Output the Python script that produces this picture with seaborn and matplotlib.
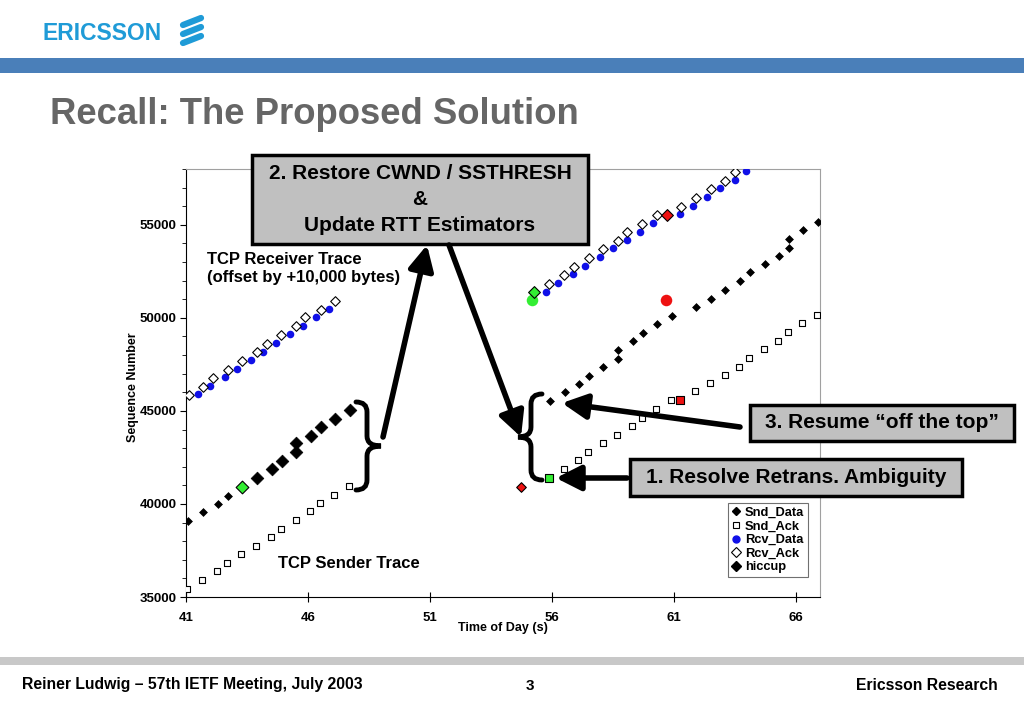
import matplotlib
matplotlib.use("Agg")
import matplotlib.pyplot as plt
from matplotlib.patches import Rectangle, FancyArrowPatch, PathPatch
from matplotlib.path import Path
from matplotlib.lines import Line2D
from matplotlib.ticker import MultipleLocator
import seaborn as sns
import pandas as pd

# Data (time of day in s, sequence number)
snd_data_t = [41.1, 41.7, 42.3, 42.72,
              55.92, 56.53, 57.11, 57.53, 58.12, 58.73, 58.73, 59.32, 59.74, 60.32, 60.92,
              61.93, 62.53, 63.12, 63.73, 64.11, 64.74, 65.32, 65.73, 65.73, 66.3, 66.92]
snd_data_seq = [39086, 39554, 40016, 40446,
                45538, 46004, 46468, 46882, 47349, 47812, 48280, 48747, 49210, 49677, 50108,
                50575, 51038, 51505, 51973, 52441, 52903, 53317, 53780, 54247, 54715, 55177]

hiccup_t = [43.9, 44.54, 44.92, 45.5, 45.5, 46.12, 46.53, 47.09, 47.72]
hiccup_seq = [41380, 41866, 42328, 42796, 43263, 43640, 44124, 44586, 45054]

snd_ack_t = [41.05, 41.67, 42.27, 42.69, 43.27, 43.88, 44.48, 44.88, 45.5, 46.08, 46.5, 47.08, 47.68,
             56.5, 57.08, 57.5, 58.09, 58.69, 59.28, 59.7, 60.28, 60.88,
             61.89, 62.49, 63.09, 63.69, 64.09, 64.69, 65.27, 65.68, 66.27, 66.89]
snd_ack_seq = [35446, 35914, 36382, 36844, 37296, 37742, 38210, 38656, 39124, 39606, 40070, 40484, 40950,
               41898, 42349, 42812, 43280, 43726, 44177, 44640, 45108, 45575,
               46059, 46489, 46919, 47382, 47849, 48317, 48780, 49247, 49715, 50145]

rcv_data_t = [41.49, 41.97, 42.59, 43.08, 43.68, 44.16, 44.69, 45.26, 45.78, 46.35, 46.87,
              55.78, 56.27, 56.89, 57.37, 57.97, 58.5, 59.07, 59.6, 60.17,
              61.26, 61.78, 62.37, 62.89, 63.5, 63.98]
rcv_data_seq = [45914, 46360, 46828, 47274, 47742, 48188, 48656, 49124, 49586, 50054, 50500,
                51414, 51882, 52349, 52812, 53280, 53747, 54177, 54640, 55108,
                55575, 56038, 56505, 56973, 57387, 57866]

rcv_ack_t = [41.11, 41.71, 42.09, 42.72, 43.31, 43.91, 44.31, 44.88, 45.5, 45.9, 46.53, 47.1,
             55.9, 56.52, 56.91, 57.52, 58.12, 58.73, 59.1, 59.72, 60.3,
             61.31, 61.93, 62.53, 63.12, 63.52]
rcv_ack_seq = [45876, 46306, 46790, 47220, 47688, 48156, 48618, 49102, 49570, 50054, 50446, 50930,
               51828, 52296, 52758, 53226, 53694, 54124, 54608, 55070, 55538,
               55984, 56452, 56919, 57333, 57817]

# highlighted events
green_series = ["hiccup", "Rcv_Data", "Rcv_Ack", "Snd_Ack"]
green_t = [43.28, 55.17, 55.29, 55.89]
green_seq = [40914, 50952, 51382, 41414]
red_series = ["Snd_Data", "Rcv_Data", "Rcv_Ack", "Snd_Ack"]
red_t = [54.72, 60.69, 60.74, 61.27]
red_seq = [40898, 50952, 55554, 45575]

x_ticks = [41, 46, 51, 56, 61, 66]
y_ticks = [35000, 40000, 45000, 50000, 55000]

sns.set_style("ticks")
plt.rcParams['font.family'] = ['Liberation Sans', 'DejaVu Sans']
plt.rcParams['font.weight'] = 'bold'
plt.rcParams['text.color'] = 'black'
plt.rcParams['axes.labelcolor'] = 'black'
plt.rcParams['xtick.color'] = 'black'
plt.rcParams['ytick.color'] = 'black'

styles = {
    "Snd_Data": dict(marker="D", s=16, color="black", edgecolor="black", linewidth=0.5),
    "Snd_Ack": dict(marker="s", s=22, color="white", edgecolor="black", linewidth=0.8),
    "Rcv_Data": dict(marker="o", s=30, color="#1010e8", edgecolor="#1010e8", linewidth=0),
    "Rcv_Ack": dict(marker="D", s=24, color="white", edgecolor="black", linewidth=0.8),
    "hiccup": dict(marker="D", s=42, color="black", edgecolor="black", linewidth=0.5),
}
series = {
    "Snd_Data": (snd_data_t, snd_data_seq),
    "Snd_Ack": (snd_ack_t, snd_ack_seq),
    "Rcv_Data": (rcv_data_t, rcv_data_seq),
    "Rcv_Ack": (rcv_ack_t, rcv_ack_seq),
    "hiccup": (hiccup_t, hiccup_seq),
}

W, H = 1024, 709
def fx(px):
    return px / W
def fy(py):
    return 1 - py / H

fig = plt.figure(figsize=(10.24, 7.09), dpi=100)
ax = fig.add_axes([fx(186), fy(597), (820 - 186) / W, (597 - 169) / H])

for name, (t, seq) in series.items():
    df = pd.DataFrame({"t": t, "seq": seq})
    sns.scatterplot(data=df, x="t", y="seq", ax=ax, zorder=3, legend=False, **styles[name])

# coloured markers
for names, ts, seqs, col in [(green_series, green_t, green_seq, "#33ee33"),
                             (red_series, red_t, red_seq, "#ee1111")]:
    for name, t, s in zip(names, ts, seqs):
        st = dict(styles[name])
        st["color"] = col
        if st["marker"] == "o":
            st["edgecolor"] = col
            st["s"] = st["s"] * 2.3
        else:
            st["edgecolor"] = "black"
            st["linewidth"] = 0.8
            st["s"] = st["s"] * (1.0 if name == "hiccup" else 1.5)
        sns.scatterplot(x=[t], y=[s], ax=ax, zorder=4, legend=False, **st)

ax.set_xlim(41, 67)
ax.set_ylim(35000, 58000)
ax.set_xticks(x_ticks)
ax.set_yticks(y_ticks)
ax.yaxis.set_minor_locator(MultipleLocator(1000))
ax.tick_params(axis="y", which="major", direction="out", length=4, labelsize=9.5, pad=3)
ax.tick_params(axis="y", which="minor", direction="out", length=3)
ax.tick_params(axis="x", which="major", direction="inout", length=7, labelsize=9.5, pad=7)
for sp in ["top", "right"]:
    ax.spines[sp].set_color("#a0a0a0")
    ax.spines[sp].set_linewidth(0.8)
for sp in ["left", "bottom"]:
    ax.spines[sp].set_color("black")
    ax.spines[sp].set_linewidth(0.8)

ax.set_xlabel("Time of Day (s)", fontsize=9, fontweight="bold")
ax.xaxis.set_label_coords(0.5, -0.058)
ax.set_ylabel("Sequence Number", fontsize=9, fontweight="bold")
ax.yaxis.set_label_coords(-0.074, 0.49)

# trace labels
fig.text(fx(207), fy(268), "TCP Receiver Trace\n(offset by +10,000 bytes)", fontsize=12,
         fontweight="bold", ha="left", va="center", linespacing=1.25)
fig.text(fx(278), fy(563), "TCP Sender Trace", fontsize=12, fontweight="bold", ha="left", va="center")

# legend
handles = [
    Line2D([], [], ls="none", marker="D", ms=4, mfc="black", mec="black"),
    Line2D([], [], ls="none", marker="s", ms=5, mfc="white", mec="black", mew=0.8),
    Line2D([], [], ls="none", marker="o", ms=5, mfc="#1010e8", mec="#1010e8"),
    Line2D([], [], ls="none", marker="D", ms=5.5, mfc="white", mec="black", mew=0.8),
    Line2D([], [], ls="none", marker="D", ms=5.5, mfc="black", mec="black"),
]
leg = ax.legend(handles, ["Snd_Data", "Snd_Ack", "Rcv_Data", "Rcv_Ack", "hiccup"],
                loc="upper left", bbox_to_anchor=((728 - 186) / 634, (597 - 503) / 428),
                borderaxespad=0, fontsize=9.3, handlelength=0.7, handletextpad=0.3,
                labelspacing=0.12, borderpad=0.3, fancybox=False, framealpha=1,
                edgecolor="#707070")
leg.get_frame().set_linewidth(0.8)

# callout boxes
def callout(x0, y0, x1, y1, text, fs=15):
    fig.add_artist(Rectangle((fx(x0), fy(y1)), fx(x1) - fx(x0), fy(y0) - fy(y1),
                             transform=fig.transFigure, facecolor="#c0c0c0",
                             edgecolor="black", lw=2.5, zorder=5))
    fig.text(fx((x0 + x1) / 2), fy((y0 + y1) / 2), text, ha="center", va="center",
             fontsize=fs, fontweight="bold", linespacing=1.45, zorder=6)

callout(252, 155, 588, 244, "2. Restore CWND / SSTHRESH\n&\nUpdate RTT Estimators")
callout(750, 405, 1014, 441, "3. Resume \u201coff the top\u201d")
callout(630, 459, 962, 496, "1. Resolve Retrans. Ambiguity")

# arrows
def arrow(p0, p1):
    fig.add_artist(FancyArrowPatch((fx(p0[0]), fy(p0[1])), (fx(p1[0]), fy(p1[1])),
                                   transform=fig.transFigure,
                                   arrowstyle="-|>,head_length=0.75,head_width=0.38",
                                   mutation_scale=20, lw=4, color="black",
                                   shrinkA=0, shrinkB=0, zorder=7))

arrow((383, 437), (427, 245))
arrow((449, 245), (521, 437))
arrow((740, 427), (562, 403))
arrow((627, 478), (556, 478))

# braces
def brace(x_end, x_shaft, x_tip, y_top, y_bot, r=10):
    ym = (y_top + y_bot) / 2
    pts = [(x_end, y_top), (x_shaft, y_top), (x_shaft, y_top + r),
           (x_shaft, ym - r), (x_shaft, ym), (x_tip, ym),
           (x_shaft, ym), (x_shaft, ym + r),
           (x_shaft, y_bot - r), (x_shaft, y_bot), (x_end, y_bot)]
    codes = [Path.MOVETO, Path.CURVE3, Path.CURVE3,
             Path.LINETO, Path.CURVE3, Path.CURVE3,
             Path.CURVE3, Path.CURVE3,
             Path.LINETO, Path.CURVE3, Path.CURVE3]
    path = Path([(fx(a), fy(b)) for a, b in pts], codes)
    fig.add_artist(PathPatch(path, transform=fig.transFigure, fill=False, lw=3.5,
                             edgecolor="black", capstyle="round", zorder=7))

brace(356, 367, 381, 402, 490)
brace(542, 531, 518, 394, 480)

# slide decoration
fig.add_artist(Rectangle((0, fy(73)), 1, fy(58) - fy(73), transform=fig.transFigure,
                         facecolor="#4a7fb9", edgecolor="none"))
fig.add_artist(Rectangle((0, fy(665)), 1, fy(657) - fy(665), transform=fig.transFigure,
                         facecolor="#c8c8c8", edgecolor="none"))
fig.text(fx(42), fy(33), "ERICSSON", color="#1f9bd7", fontsize=16.5, fontweight="bold",
         ha="left", va="center")
for y0 in [20, 29, 38]:
    fig.add_artist(Line2D([fx(183), fx(201)], [fy(y0 + 5), fy(y0 - 2)], transform=fig.transFigure,
                          color="#1f9bd7", lw=4.5, solid_capstyle="round"))
fig.text(fx(50), fy(115), "Recall: The Proposed Solution", color="#666666", fontsize=26.3,
         fontweight="bold", ha="left", va="center")
fig.text(fx(22), fy(685), "Reiner Ludwig \u2013 57th IETF Meeting, July 2003", fontsize=11.3,
         fontweight="bold", ha="left", va="center")
fig.text(fx(530), fy(686), "3", fontsize=11, fontweight="bold", ha="center", va="center")
fig.text(fx(998), fy(685), "Ericsson Research", fontsize=11.3, fontweight="bold",
         ha="right", va="center")

fig.savefig("out.png", dpi=100)
